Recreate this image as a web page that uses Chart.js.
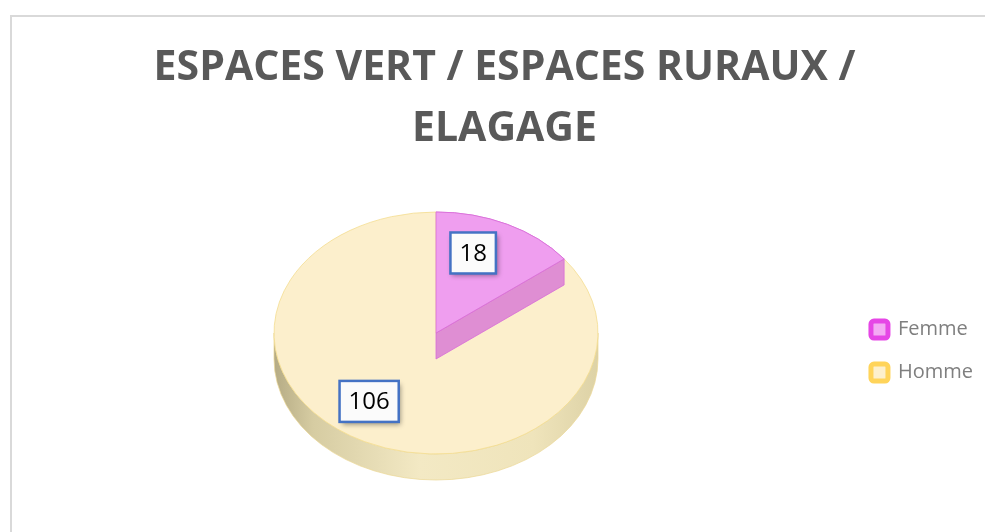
<!DOCTYPE html>
<html>
<head>
<meta charset="utf-8">
<script src="https://cdn.jsdelivr.net/npm/chart.js@4.4.0/dist/chart.umd.min.js"></script>
<style>
  html, body { margin: 0; padding: 0; background: #fff; overflow: hidden; }
  #wrap { position: relative; width: 985px; height: 532px; }
  #frame { position: absolute; left: 10px; top: 15px; width: 1000px; height: 600px; border: 2px solid #d9d9d9; box-sizing: border-box; }
  canvas { position: absolute; left: 0; top: 0; }
</style>
</head>
<body>
<div id="wrap">
  <div id="frame"></div>
  <canvas id="myChart" width="985" height="532"></canvas>
</div>
<script>
// DATA
const categories = ["Femme", "Homme"];
const counts = [18, 106];
const titleLines = ["ESPACES VERT / ESPACES RURAUX /", "ELAGAGE"];

// STYLE
const topColors = ["#ef9eef", "#fcefcc"];
const edgeColors = ["#d76cd7", "#f4dc8e"];
const wallColors = ["rgba(214,110,214,0.75)", "rgba(240,226,180,0.9)"];
const legendFill = ["#f4aaf4", "#fdf0cd"];
const legendStroke = ["#e646e6", "#ffd45a"];
const labelNudge = [-7, 10]; // degrees, where the boxes sit on the slices

// where the tilted pie is drawn
const PIE = { x: 436, y: 333, rx: 162, ry: 121, depth: 26 };

function sideGradient(ctx, cx, r) {
  const g = ctx.createLinearGradient(cx - r, 0, cx + r, 0);
  g.addColorStop(0, "#b5ab84");
  g.addColorStop(0.12, "#d6cca2");
  g.addColorStop(0.45, "#f3e9c4");
  g.addColorStop(0.8, "#efe4bb");
  g.addColorStop(1, "#ddd2a6");
  return g;
}

const pie3d = {
  id: "pie3d",
  beforeDatasetsDraw(chart) {
    const meta = chart.getDatasetMeta(0);
    const a0 = meta.data[0];
    const cx = a0.x, cy = a0.y, r = a0.outerRadius;
    const ctx = chart.ctx;
    ctx.save();
    ctx.translate(PIE.x, PIE.y);
    ctx.scale(PIE.rx / r, PIE.ry / r);
    ctx.translate(-cx, -cy);
    const d = PIE.depth * r / PIE.ry;

    // the rim, only the front half is seen
    meta.data.forEach((arc, i) => {
      const a = Math.max(arc.startAngle, 0);
      const b = Math.min(arc.endAngle, Math.PI);
      if (b <= a) return;
      ctx.beginPath();
      ctx.moveTo(cx + r * Math.cos(a), cy + r * Math.sin(a));
      ctx.arc(cx, cy, r, a, b);
      ctx.lineTo(cx + r * Math.cos(b), cy + d + r * Math.sin(b));
      ctx.arc(cx, cy + d, r, b, a, true);
      ctx.closePath();
      ctx.fillStyle = i === 1 ? sideGradient(ctx, cx, r) : wallColors[i];
      ctx.fill();
      ctx.lineWidth = 1;
      ctx.strokeStyle = "rgba(235,215,150,0.9)";
      ctx.stroke();
    });
    chart.$pie = { cx, cy, r, d };
  },
  afterDatasetsDraw(chart) {
    const meta = chart.getDatasetMeta(0);
    const ctx = chart.ctx;
    const { cx, cy, r, d } = chart.$pie;

    // cut face of the first slice, then its top again
    const first = meta.data[0];
    const e = first.endAngle;
    if (Math.cos(e) > 0) {
      ctx.beginPath();
      ctx.moveTo(cx, cy);
      ctx.lineTo(cx + r * Math.cos(e), cy + r * Math.sin(e));
      ctx.lineTo(cx + r * Math.cos(e), cy + d + r * Math.sin(e));
      ctx.lineTo(cx, cy + d);
      ctx.closePath();
      ctx.fillStyle = wallColors[0];
      ctx.fill();
      ctx.strokeStyle = edgeColors[0];
      ctx.lineWidth = 1;
      ctx.stroke();
      first.draw(ctx);
    }
    ctx.restore();

    // value boxes
    meta.data.forEach((arc, i) => {
      const mid = (arc.startAngle + arc.endAngle) / 2 + labelNudge[i] * Math.PI / 180;
      const x = PIE.x + Math.cos(mid) * 0.7 * PIE.rx;
      const y = PIE.y + Math.sin(mid) * 0.7 * PIE.ry;
      const txt = String(counts[i]);
      ctx.save();
      ctx.font = "24px 'Open Sans'";
      const w = ctx.measureText(txt).width + 18;
      const h = 41;
      ctx.shadowColor = "rgba(0,0,0,0.4)";
      ctx.shadowBlur = 5;
      ctx.shadowOffsetX = 2;
      ctx.shadowOffsetY = 3;
      ctx.fillStyle = "#fbfbfb";
      ctx.fillRect(x - w / 2, y - h / 2, w, h);
      ctx.shadowColor = "transparent";
      ctx.lineWidth = 2.5;
      ctx.strokeStyle = "#4472c4";
      ctx.strokeRect(x - w / 2, y - h / 2, w, h);
      ctx.fillStyle = "#000";
      ctx.textAlign = "center";
      ctx.textBaseline = "middle";
      ctx.fillText(txt, x, y + 1);
      ctx.restore();
    });
  },
};

const ctx = document.getElementById("myChart");

new Chart(ctx, {
  type: "pie",
  data: {
    labels: categories,
    datasets: [
      {
        data: counts,
        backgroundColor: topColors,
        borderColor: edgeColors,
        borderWidth: 1,
        clip: false,
      },
    ],
  },
  plugins: [pie3d],
  options: {
    responsive: false,
    animation: false,
    events: [],
    layout: { padding: { left: 26, right: 2 } },
    plugins: {
      tooltip: { enabled: false },
      title: {
        display: true,
        text: titleLines,
        color: "#595959",
        font: { family: "'Open Sans'", size: 41, weight: "bold", lineHeight: 1.49 },
        padding: { top: 38, bottom: 10 },
      },
      legend: {
        position: "right",
        fullSize: false,
        labels: {
          color: "#7f7f7f",
          font: { family: "'Open Sans'", size: 20 },
          boxWidth: 17,
          boxHeight: 17,
          padding: 23,
          useBorderRadius: true,
          borderRadius: 3,
          generateLabels: () =>
            categories.map((t, i) => ({
              text: t,
              fillStyle: legendFill[i],
              strokeStyle: legendStroke[i],
              lineWidth: 5,
              fontColor: "#7f7f7f",
              borderRadius: 3,
              hidden: false,
              index: i,
            })),
        },
      },
    },
  },
});
</script>
</body>
</html>
